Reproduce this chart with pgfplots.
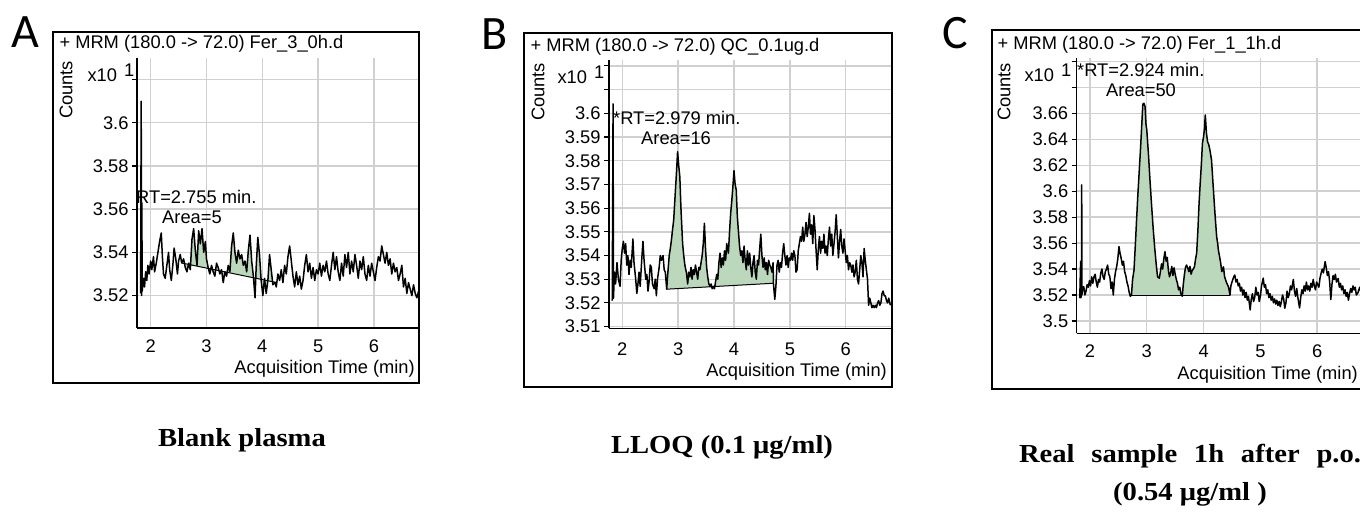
\documentclass[border=0pt]{standalone}
\usepackage{pgfplots}
\usepackage{pgfplotstable}
\pgfplotsset{compat=1.18}
\usepackage{fontspec}
\setmainfont{Liberation Sans}
\newfontfamily\capfont{Liberation Serif}[FakeStretch=1.1]
\newfontfamily\letterfont{Carlito}
\definecolor{peakgreen}{RGB}{188,216,188}
\definecolor{gridgray}{RGB}{208,208,208}
\newcommand\cf{\fontsize{18.3}{21}\selectfont}

\pgfplotstableread{
t v
1.820 3.521
1.830 3.610
1.838 3.520
1.842 3.563
1.848 3.522
1.87 3.528
1.89 3.524
1.91 3.531
1.93 3.527
1.95 3.534
1.97 3.530
2.00 3.536
2.02 3.532
2.05 3.538
2.07 3.531
2.10 3.535
2.13 3.540
2.16 3.545
2.19 3.549
2.21 3.538
2.23 3.530
2.26 3.528
2.29 3.534
2.32 3.540
2.34 3.532
2.37 3.527
2.40 3.535
2.42 3.542
2.45 3.537
2.48 3.530
2.50 3.536
2.53 3.539
2.556 3.5351
2.59 3.537
2.62 3.533
2.65 3.531
2.68 3.535
2.71 3.532
2.74 3.546
2.77 3.551
2.80 3.541
2.83 3.534
2.86 3.550
2.89 3.544
2.92 3.551
2.95 3.540
2.98 3.545
3.00 3.537
3.03 3.533
3.06 3.530
3.09 3.534
3.12 3.531
3.15 3.529
3.18 3.535
3.21 3.533
3.24 3.530
3.27 3.532
3.30 3.526
3.33 3.531
3.36 3.529
3.39 3.534
3.42 3.531
3.45 3.543
3.48 3.549
3.51 3.540
3.54 3.535
3.57 3.541
3.60 3.537
3.63 3.539
3.66 3.534
3.69 3.536
3.72 3.531
3.75 3.541
3.78 3.548
3.81 3.536
3.84 3.529
3.87 3.519
3.89 3.533
3.92 3.547
3.95 3.539
3.98 3.527
4.01 3.520
4.04 3.528
4.07 3.521
4.10 3.527
4.13 3.539
4.16 3.532
4.19 3.525
4.228 3.5262
4.25 3.524
4.28 3.530
4.31 3.527
4.34 3.532
4.37 3.526
4.40 3.534
4.43 3.530
4.46 3.538
4.49 3.543
4.52 3.536
4.55 3.529
4.58 3.524
4.61 3.531
4.64 3.525
4.67 3.529
4.70 3.523
4.73 3.527
4.76 3.534
4.79 3.539
4.82 3.531
4.85 3.535
4.88 3.528
4.91 3.533
4.94 3.527
4.97 3.532
5.00 3.530
5.03 3.535
5.06 3.529
5.09 3.534
5.12 3.531
5.15 3.536
5.18 3.530
5.21 3.527
5.24 3.534
5.27 3.540
5.30 3.532
5.33 3.538
5.36 3.531
5.39 3.527
5.42 3.535
5.45 3.529
5.48 3.539
5.51 3.533
5.54 3.540
5.57 3.530
5.60 3.536
5.63 3.531
5.66 3.539
5.69 3.534
5.72 3.528
5.75 3.536
5.78 3.532
5.81 3.538
5.84 3.530
5.87 3.527
5.90 3.534
5.93 3.529
5.96 3.535
5.99 3.531
6.02 3.527
6.05 3.533
6.08 3.538
6.11 3.536
6.14 3.543
6.17 3.539
6.20 3.535
6.23 3.540
6.26 3.534
6.29 3.537
6.32 3.530
6.35 3.535
6.38 3.531
6.41 3.533
6.44 3.527
6.47 3.530
6.50 3.534
6.53 3.524
6.56 3.528
6.59 3.521
6.62 3.526
6.65 3.523
6.68 3.520
6.71 3.525
6.74 3.521
6.77 3.519
6.80 3.522
}\dA

\pgfplotstableread{
t v
1.820 3.521
1.835 3.604
1.842 3.522
1.86 3.533
1.88 3.528
1.905 3.537
1.93 3.530
1.96 3.527
1.98 3.538
2.00 3.543
2.02 3.546
2.04 3.541
2.06 3.545
2.08 3.536
2.10 3.540
2.12 3.532
2.14 3.538
2.16 3.535
2.19 3.547
2.21 3.537
2.24 3.530
2.26 3.524
2.28 3.528
2.30 3.533
2.32 3.527
2.35 3.539
2.37 3.546
2.39 3.538
2.42 3.530
2.44 3.532
2.46 3.525
2.48 3.529
2.50 3.536
2.52 3.535
2.54 3.528
2.57 3.526
2.59 3.530
2.61 3.523
2.63 3.530
2.66 3.535
2.68 3.540
2.70 3.538
2.73 3.540
2.75 3.534
2.77 3.533
2.795 3.5258
2.81 3.531
2.84 3.540
2.86 3.543
2.88 3.5466
2.90 3.551
2.92 3.555
2.94 3.563
2.955 3.569
2.97 3.575
2.99 3.5838
3.01 3.578
3.03 3.5733
3.05 3.560
3.06 3.555
3.08 3.545
3.10 3.540
3.12 3.536
3.15 3.5325
3.17 3.528
3.19 3.533
3.21 3.531
3.23 3.535
3.25 3.530
3.27 3.534
3.29 3.532
3.31 3.536
3.33 3.533
3.35 3.530
3.37 3.535
3.39 3.534
3.41 3.537
3.43 3.540
3.45 3.545
3.47 3.5536
3.49 3.543
3.51 3.535
3.53 3.531
3.55 3.528
3.57 3.527
3.59 3.528
3.61 3.526
3.63 3.527
3.65 3.526
3.67 3.529
3.69 3.532
3.71 3.530
3.73 3.537
3.75 3.541
3.77 3.535
3.79 3.539
3.81 3.536
3.83 3.542
3.85 3.538
3.87 3.545
3.90 3.541
3.92 3.550
3.94 3.5578
3.96 3.563
3.98 3.569
4.00 3.5758
4.02 3.570
4.04 3.5677
4.06 3.5564
4.08 3.550
4.10 3.5438
4.12 3.540
4.14 3.542
4.16 3.537
4.18 3.544
4.20 3.538
4.22 3.534
4.24 3.542
4.26 3.536
4.28 3.541
4.30 3.535
4.32 3.531
4.34 3.537
4.36 3.540
4.38 3.533
4.40 3.530
4.42 3.538
4.44 3.536
4.46 3.543
4.48 3.549
4.50 3.540
4.52 3.535
4.54 3.539
4.56 3.534
4.58 3.537
4.60 3.532
4.62 3.538
4.64 3.536
4.66 3.535
4.68 3.533
4.70 3.537
4.706 3.5283
4.73 3.5215
4.75 3.527
4.77 3.536
4.79 3.538
4.81 3.533
4.83 3.537
4.85 3.535
4.87 3.541
4.89 3.545
4.91 3.540
4.93 3.536
4.95 3.540
4.97 3.535
4.99 3.539
5.01 3.538
5.03 3.541
5.05 3.538
5.07 3.542
5.09 3.540
5.11 3.533
5.13 3.534
5.15 3.542
5.17 3.545
5.19 3.548
5.21 3.546
5.23 3.552
5.25 3.546
5.27 3.549
5.29 3.554
5.31 3.548
5.33 3.552
5.35 3.5578
5.37 3.549
5.39 3.553
5.41 3.545
5.43 3.5569
5.45 3.551
5.47 3.542
5.49 3.534
5.51 3.543
5.53 3.548
5.55 3.541
5.57 3.546
5.59 3.543
5.61 3.549
5.63 3.541
5.65 3.544
5.67 3.540
5.69 3.547
5.71 3.552
5.73 3.544
5.75 3.549
5.77 3.540
5.79 3.545
5.81 3.550
5.83 3.5572
5.85 3.548
5.87 3.539
5.89 3.546
5.91 3.551
5.93 3.544
5.95 3.541
5.97 3.547
5.99 3.542
6.01 3.537
6.03 3.540
6.05 3.534
6.07 3.537
6.09 3.536
6.11 3.533
6.13 3.536
6.15 3.531
6.17 3.533
6.19 3.538
6.21 3.530
6.23 3.528
6.25 3.534
6.27 3.540
6.29 3.537
6.31 3.531
6.33 3.543
6.35 3.538
6.37 3.534
6.39 3.530
6.41 3.519
6.43 3.522
6.45 3.520
6.47 3.518
6.49 3.519
6.51 3.518
6.53 3.519
6.55 3.518
6.57 3.520
6.59 3.521
6.61 3.519
6.63 3.520
6.65 3.524
6.67 3.525
6.69 3.523
6.71 3.523
6.73 3.521
6.75 3.520
6.77 3.522
6.79 3.520
6.80 3.519
}\dB

\pgfplotstableread{
t v
1.820 3.5175
1.835 3.546
1.840 3.518
1.850 3.520
1.854 3.6048
1.858 3.520
1.87 3.525
1.89 3.5264
1.91 3.520
1.93 3.523
1.95 3.528
1.97 3.526
1.99 3.531
2.01 3.527
2.03 3.534
2.05 3.529
2.07 3.534
2.09 3.536
2.11 3.530
2.13 3.526
2.15 3.532
2.17 3.530
2.19 3.537
2.21 3.540
2.23 3.534
2.25 3.532
2.27 3.538
2.29 3.540
2.31 3.5431
2.33 3.536
2.35 3.534
2.37 3.525
2.39 3.530
2.41 3.520
2.43 3.532
2.45 3.538
2.47 3.542
2.49 3.548
2.51 3.5573
2.53 3.552
2.55 3.548
2.57 3.543
2.59 3.546
2.61 3.538
2.63 3.535
2.65 3.530
2.67 3.527
2.69 3.522
2.71 3.519
2.73 3.520
2.75 3.532
2.775 3.5393
2.80 3.560
2.82 3.5778
2.84 3.595
2.868 3.6163
2.89 3.633
2.91 3.6497
2.93 3.667
2.95 3.6677
2.97 3.665
2.985 3.652
3.00 3.6471
3.03 3.628
3.056 3.6086
3.08 3.592
3.11 3.5727
3.14 3.556
3.17 3.5418
3.19 3.534
3.22 3.533
3.24 3.538
3.26 3.544
3.28 3.540
3.30 3.548
3.32 3.5534
3.34 3.546
3.36 3.549
3.38 3.539
3.40 3.534
3.42 3.537
3.44 3.542
3.46 3.535
3.48 3.541
3.50 3.536
3.52 3.532
3.54 3.529
3.56 3.524
3.58 3.526
3.60 3.521
3.625 3.519
3.64 3.527
3.66 3.535
3.68 3.541
3.70 3.5431
3.72 3.541
3.74 3.538
3.76 3.542
3.78 3.536
3.80 3.539
3.82 3.540
3.84 3.542
3.86 3.548
3.878 3.5522
3.90 3.570
3.92 3.590
3.937 3.6035
3.96 3.620
3.98 3.637
4.00 3.642
4.015 3.648
4.03 3.6587
4.05 3.645
4.07 3.638
4.09 3.636
4.11 3.632
4.14 3.624
4.17 3.603
4.20 3.583
4.23 3.565
4.25 3.559
4.26 3.5547
4.28 3.550
4.30 3.545
4.32 3.538
4.35 3.5417
4.37 3.534
4.40 3.530
4.42 3.528
4.44 3.526
4.465 3.520
4.48 3.527
4.50 3.530
4.53 3.534
4.55 3.5354
4.57 3.530
4.59 3.532
4.61 3.527
4.63 3.529
4.65 3.523
4.67 3.526
4.69 3.520
4.71 3.524
4.73 3.518
4.75 3.522
4.77 3.516
4.79 3.519
4.82 3.5085
4.84 3.517
4.86 3.521
4.88 3.515
4.90 3.518
4.92 3.526
4.94 3.520
4.96 3.522
4.98 3.515
5.00 3.519
5.02 3.527
5.05 3.533
5.07 3.526
5.09 3.528
5.11 3.521
5.13 3.524
5.15 3.518
5.17 3.521
5.19 3.516
5.21 3.519
5.23 3.514
5.25 3.517
5.27 3.513
5.29 3.516
5.31 3.512
5.33 3.515
5.35 3.511
5.37 3.515
5.39 3.520
5.41 3.517
5.43 3.5098
5.45 3.514
5.47 3.523
5.49 3.518
5.51 3.521
5.53 3.527
5.55 3.524
5.58 3.532
5.60 3.523
5.62 3.519
5.64 3.525
5.66 3.518
5.69 3.510
5.71 3.518
5.73 3.524
5.75 3.521
5.77 3.527
5.79 3.523
5.81 3.530
5.83 3.524
5.85 3.527
5.87 3.523
5.89 3.529
5.91 3.526
5.93 3.532
5.95 3.527
5.97 3.524
5.99 3.530
6.01 3.528
6.03 3.526
6.05 3.533
6.07 3.537
6.09 3.540
6.11 3.537
6.13 3.543
6.14 3.5457
6.16 3.541
6.18 3.535
6.20 3.538
6.22 3.530
6.24 3.5165
6.26 3.528
6.28 3.535
6.30 3.532
6.32 3.536
6.34 3.530
6.37 3.5327
6.39 3.526
6.41 3.529
6.43 3.524
6.45 3.527
6.47 3.521
6.49 3.524
6.51 3.519
6.53 3.522
6.55 3.516
6.57 3.521
6.59 3.525
6.61 3.522
6.63 3.527
6.65 3.524
6.67 3.526
6.69 3.520
6.72 3.522
6.75 3.526
6.78 3.521
6.80 3.523
}\dC

\pgfplotsset{chrom/.style={
  scale only axis, anchor=south west,
  axis x line*=bottom, axis y line*=left,
  axis line style={-, black, line width=1.1pt},
  xmajorgrids, ymajorgrids,
  major grid style={gridgray, line width=1.4pt},
  xtick={2,3,4,5,6},
  xticklabels={2,3,4,5,6},
  xtick style={draw=none},
  ytick style={black, line width=1.1pt},
  tick align=outside, major tick length=5pt,
  tick label style={font=\cf},
  yticklabel style={anchor=east},
  clip=true,
}}

\begin{document}
\begin{tikzpicture}[x=1pt,y=1pt]
\useasboundingbox (0,0) rectangle (1360,516);
\clip (0,0) rectangle (1360,516);
\fill[white] (0,0) rectangle (1360,516);
% frames
\draw[line width=1.2pt] (53,133) rectangle (419,484);
\draw[line width=1.2pt] (524,129) rectangle (892,483);
\draw[line width=1.2pt] (992,127) rectangle (1368,486);

% ---------- A ----------
\begin{axis}[chrom, at={(137pt,188pt)}, width=281pt, height=270pt,
  xticklabel style={anchor=center, yshift=-13pt},
  xmin=1.755, xmax=6.79, ymin=3.505, ymax=3.630,
  ytick={3.52,3.54,3.56,3.58,3.6,3.62},
  yticklabels={3.52,3.54,3.56,3.58,3.6,{}}]
\addplot[fill=peakgreen, draw=none, restrict x to domain=2.555:4.229] table {\dA};
\addplot[black, line width=1pt] coordinates {(2.556,3.5351) (4.228,3.5262)};
\addplot[black, line width=1.5pt, line join=round] table {\dA};
\end{axis}

% ---------- B ----------
\begin{axis}[chrom, at={(609pt,187.7pt)}, width=282pt, height=268.3pt,
  xticklabel style={anchor=center, yshift=-16pt},
  xmin=1.762, xmax=6.811, ymin=3.5093, ymax=3.6225,
  ytick={3.51,3.52,3.53,3.54,3.55,3.56,3.57,3.58,3.59,3.6,3.61,3.62},
  yticklabels={3.51,3.52,3.53,3.54,3.55,3.56,3.57,3.58,3.59,3.6,{},{}}]
\addplot[fill=peakgreen, draw=none, restrict x to domain=2.794:4.707] table {\dB};
\addplot[black, line width=1pt] coordinates {(2.795,3.5258) (4.706,3.5283)};
\addplot[black, line width=1.5pt, line join=round] table {\dB};
\end{axis}

% ---------- C ----------
\begin{axis}[chrom, at={(1076.7pt,182.7pt)}, width=285.9pt, height=275.3pt,
  xticklabel style={anchor=center, yshift=-13pt},
  xmin=1.766, xmax=6.8, ymin=3.4905, ymax=3.7026,
  ytick={3.5,3.52,3.54,3.56,3.58,3.6,3.62,3.64,3.66,3.68,3.7},
  yticklabels={3.5,3.52,3.54,3.56,3.58,3.6,3.62,3.64,3.66,{},{}}]
\addplot[fill=peakgreen, draw=none, restrict x to domain=2.729:4.466] table {\dC};
\addplot[black, line width=1pt] coordinates {(2.73,3.52) (4.465,3.52)};
\addplot[black, line width=1.5pt, line join=round] table {\dC};
\end{axis}

% texts A
\node[anchor=west, font=\cf] at (56,472) {+ MRM (180.0 -> 72.0) Fer\_3\_0h.d};
\node[rotate=90, font=\cf] at (66,426) {Counts};
\node[anchor=west, font=\cf] at (84,443) {x10\hspace{7pt}\raisebox{5pt}{1}};
\node[anchor=west, font=\cf, inner sep=0pt] at (136,319) {RT=2.755 min.};
\node[anchor=west, font=\cf, inner sep=0pt] at (162,299) {Area=5};
\node[anchor=east, font=\cf, inner sep=0pt] at (415,147) {Acquisition Time (min)};

% texts B
\node[anchor=west, font=\cf] at (527,469) {+ MRM (180.0 -> 72.0) QC\_0.1ug.d};
\node[rotate=90, font=\cf] at (538,424) {Counts};
\node[anchor=west, font=\cf] at (554,441) {x10\hspace{7pt}\raisebox{5pt}{1}};
\node[anchor=west, font=\cf, inner sep=0pt] at (613,398) {*RT=2.979 min.};
\node[anchor=west, font=\cf, inner sep=0pt] at (641,378) {Area=16};
\node[anchor=east, font=\cf, inner sep=0pt] at (887,144) {Acquisition Time (min)};

% texts C
\node[anchor=west, font=\cf] at (994,471) {+ MRM (180.0 -> 72.0) Fer\_1\_1h.d};
\node[rotate=90, font=\cf] at (1004,424) {Counts};
\node[anchor=west, font=\cf] at (1021,443) {x10\hspace{7pt}\raisebox{5pt}{1}};
\node[anchor=west, font=\cf, inner sep=0pt] at (1077,446) {*RT=2.924 min.};
\node[anchor=west, font=\cf, inner sep=0pt] at (1106,426) {Area=50};
\node[anchor=east, font=\cf, inner sep=0pt] at (1358,141) {Acquisition Time (min)};

% panel letters
\node[font=\letterfont\fontsize{48}{50}\selectfont] at (25,484) {A};
\node[font=\letterfont\fontsize{48}{50}\selectfont] at (495,482) {B};
\node[font=\letterfont\fontsize{48}{50}\selectfont] at (955,483) {C};

% captions
\node[font=\capfont\bfseries\fontsize{26}{30}\selectfont] at (242,76) {Blank plasma};
\node[font=\capfont\bfseries\fontsize{26}{30}\selectfont] at (722,69) {LLOQ (0.1 μg/ml)};
\node[font=\capfont\bfseries\fontsize{26}{30}\selectfont] at (1190,60) {\makebox[342pt][s]{Real sample 1h after p.o.}};
\node[font=\capfont\bfseries\fontsize{26}{30}\selectfont] at (1190,22) {(0.54 μg/ml )};
\end{tikzpicture}
\end{document}
